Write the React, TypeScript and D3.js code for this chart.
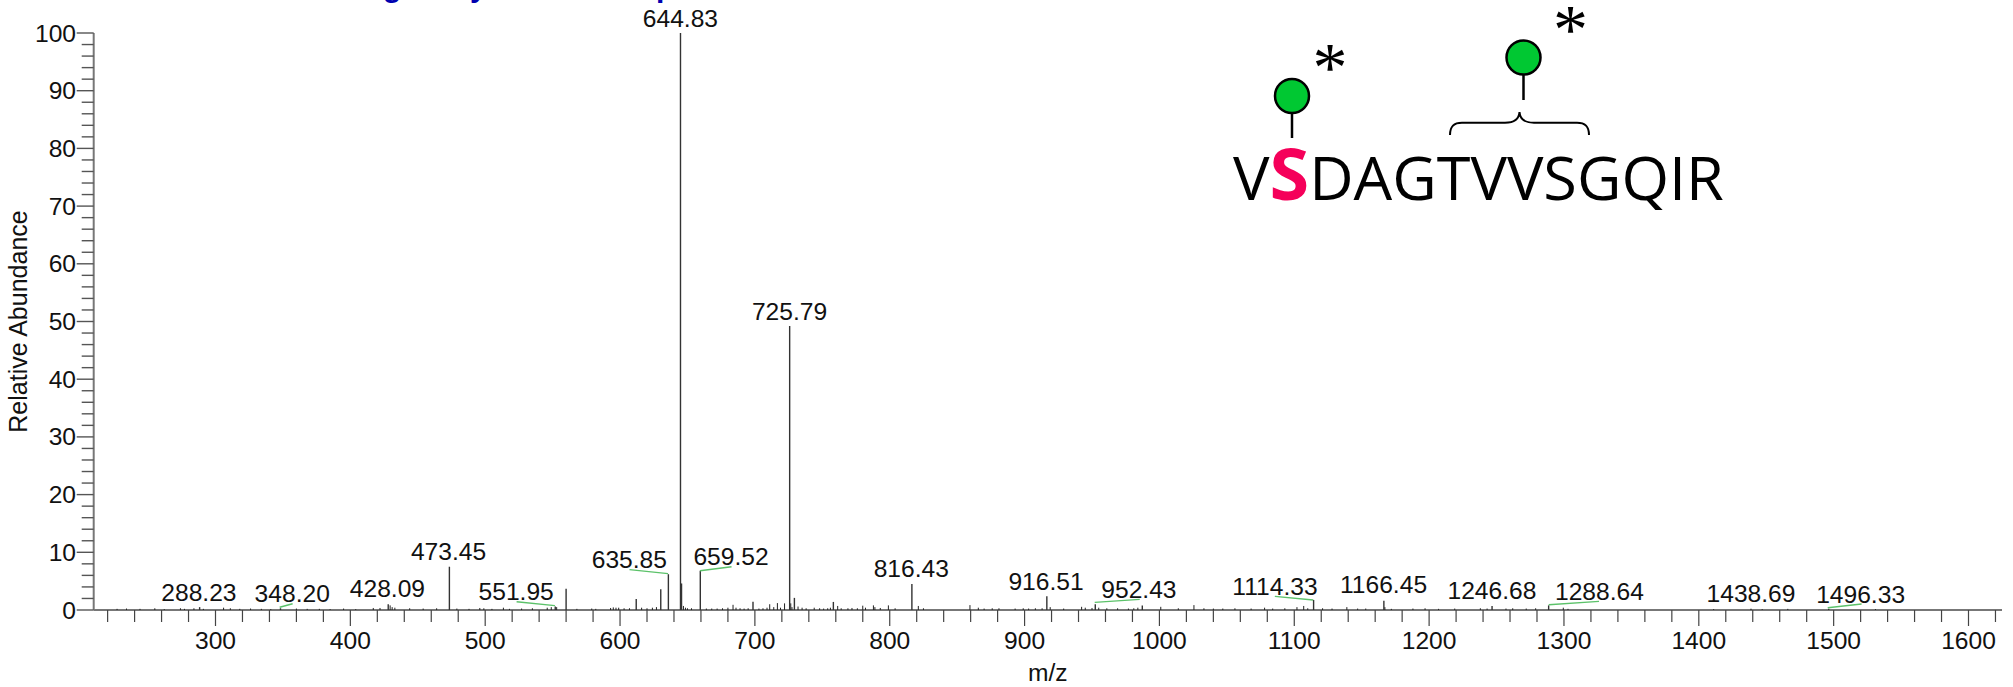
import React from "react";
import * as d3 from "d3";

const W = 2013, H = 687;

// main labelled peaks
const mainMz = [288.23, 348.2, 428.09, 473.45, 551.95, 560, 612, 630.2, 635.85, 644.83, 645.6, 659.52, 698.6, 725.79, 729.3, 758.2, 816.43, 916.51, 952.43, 987.3, 1114.33, 1166.45, 1246.68, 1288.64, 1438.69, 1496.33];
const mainInt = [0.5, 0.3, 1.0, 7.5, 0.6, 3.7, 1.9, 3.6, 6.2, 100, 4.6, 6.8, 1.45, 49.2, 2.1, 1.4, 4.5, 2.4, 1.0, 0.8, 1.75, 1.6, 0.7, 0.8, 0.2, 0.2];

// minor peaks
const minorMz = [227, 234, 244, 255, 262, 274, 277, 284, 291, 306, 311, 318, 326, 334, 341, 360, 368, 377, 385, 395, 404, 417, 422, 429.5, 431, 433, 444, 454, 464, 479, 488, 496, 499, 505, 513.5, 518, 527, 535, 546, 549, 553, 568, 579, 582, 593, 595, 597, 599, 603, 607, 616, 620, 624, 627, 647, 648.5, 650, 653, 664, 668, 672, 676, 680, 683.8, 686, 689, 692, 695, 703, 706, 709, 711, 714, 716.7, 719, 722, 726.6, 727.5, 732, 735, 738, 744, 748, 751, 754, 756, 761.4, 764, 769, 772, 776, 780, 782, 787.9, 789, 793, 799, 804, 821.2, 825, 859.5, 865.7, 870, 876, 881, 893, 899, 903, 908, 913, 919, 929, 942.3, 945, 950, 955, 961, 969, 977, 981, 984, 1001, 1014, 1025.6, 1033, 1040, 1047, 1056, 1068, 1078, 1084, 1093, 1102, 1107, 1110, 1121, 1128, 1139, 1147, 1153, 1167.2, 1172, 1188, 1197, 1207, 1219, 1238, 1243, 1257, 1262, 1272, 1279, 1299.5, 1303, 1411, 1447, 1466, 1531];
const minorInt = [0.2, 0.25, 0.2, 0.3, 0.15, 0.3, 0.2, 0.3, 0.2, 0.4, 0.3, 0.2, 0.25, 0.2, 0.15, 0.25, 0.2, 0.2, 0.15, 0.25, 0.15, 0.35, 0.35, 0.8, 0.5, 0.4, 0.3, 0.25, 0.3, 0.25, 0.2, 0.35, 0.3, 0.2, 0.4, 0.2, 0.25, 0.3, 0.4, 0.5, 0.5, 0.2, 0.25, 0.2, 0.35, 0.45, 0.4, 0.4, 0.3, 0.3, 0.4, 0.3, 0.4, 0.5, 0.7, 0.4, 0.3, 0.3, 0.25, 0.25, 0.25, 0.3, 0.4, 0.9, 0.4, 0.3, 0.25, 0.3, 0.25, 0.3, 0.4, 1.0, 0.5, 1.2, 0.4, 1.15, 1.15, 0.5, 0.6, 0.4, 0.3, 0.4, 0.3, 0.25, 0.3, 0.4, 0.7, 0.3, 0.3, 0.35, 0.3, 0.75, 0.4, 0.8, 0.5, 0.35, 0.8, 0.3, 0.7, 0.3, 0.85, 0.4, 0.25, 0.3, 0.3, 0.25, 0.3, 0.25, 0.3, 0.3, 0.5, 0.25, 0.55, 0.4, 0.35, 0.4, 0.3, 0.3, 0.25, 0.3, 0.4, 0.55, 0.3, 0.85, 0.3, 0.25, 0.25, 0.3, 0.25, 0.4, 0.25, 0.3, 0.5, 0.7, 0.3, 0.3, 0.25, 0.5, 0.25, 0.25, 0.5, 0.2, 0.25, 0.3, 0.2, 0.25, 0.3, 0.25, 0.25, 0.3, 0.25, 0.3, 0.4, 0.2, 0.15, 0.15, 0.2, 0.15];

// printed peak labels and where they sit (m/z, abundance units of the plot)
const labelText = ["644.83", "725.79", "473.45", "288.23", "348.20", "428.09", "551.95", "635.85", "659.52", "816.43", "916.51", "952.43", "1114.33", "1166.45", "1246.68", "1288.64", "1438.69", "1496.33"];
const labelMz = [644.8, 725.7, 472.8, 287.7, 356.9, 427.5, 523, 606.9, 682.3, 816, 915.9, 984.8, 1085.7, 1166.2, 1246.6, 1326.3, 1438.7, 1520];
const labelAt = [101.1, 50.2, 8.67, 1.61, 1.33, 2.2, 1.73, 7.33, 7.8, 5.77, 3.47, 2.08, 2.6, 2.95, 1.9, 1.73, 1.39, 1.21];

// green leader lines: m/z start, abundance start, m/z end, abundance end
const leaderMz0 = [347.6, 523.3, 607, 659.3, 952, 1085.6, 1288.7, 1495.6];
const leaderI0 = [0.47, 1.44, 7.0, 6.8, 1.33, 2.37, 0.92, 0.4];
const leaderMz1 = [357.2, 551.7, 635.6, 682.7, 985.4, 1114, 1326, 1520.7];
const leaderI1 = [1.09, 0.75, 6.3, 7.5, 1.85, 1.73, 1.5, 1.04];

const xMajor = [300, 400, 500, 600, 700, 800, 900, 1000, 1100, 1200, 1300, 1400, 1500, 1600];
const yMajor = [0, 10, 20, 30, 40, 50, 60, 70, 80, 90, 100];
const peptideHead = "V";
const peptideSite = "S";
const peptideTail = "DAGTVVSGQIR";

const x = d3.scaleLinear().domain([300, 1600]).range([215.5, 1968.5]);
const y = d3.scaleLinear().domain([0, 100]).range([610, 33]);
const xLo = x.invert(93.7), xHi = x.invert(2002);
const sans = "'Liberation Sans', Arial, sans-serif";
const FS = 24.6;

export default function App() {
  const xMinor = d3.range(220, 1630, 20);
  const yMinor = d3.range(0, 101, 2);
  return (
    <svg width={W} height={H} style={{ position: "absolute", left: 0, top: 0, background: "#fff" }} fontFamily={sans}>
      {/* cropped title fragments along the top edge */}
      <g fontWeight={700} fontSize={30} fill="#0000b0">
        <text x={383} y={-3}>g</text>
        <text x={470} y={-3}>y</text>
        <text x={656} y={-3}>p</text>
      </g>
      {/* axes */}
      <line x1={x(xLo)} x2={x(xHi)} y1={y(0)} y2={y(0)} stroke="#777" strokeWidth={2} />
      <line x1={x(xLo)} x2={x(xLo)} y1={y(100)} y2={y(0)} stroke="#777" strokeWidth={2} />
      {yMinor.map((v) => (
        <line key={v} x1={x(xLo) - (v % 10 === 0 ? 17 : 12)} x2={x(xLo)} y1={y(v)} y2={y(v)} stroke="#555" strokeWidth={1.4} />
      ))}
      {yMajor.map((v) => (
        <text key={v} x={76} y={y(v) + 8.5} fontSize={FS} textAnchor="end" fill="#111">{v}</text>
      ))}
      {xMinor.map((v) => (
        <line key={v} x1={x(v)} x2={x(v)} y1={y(0)} y2={y(0) + (v % 100 === 0 ? 16 : 12)} stroke="#444" strokeWidth={1.2} />
      ))}
      {xMajor.map((v) => (
        <text key={v} x={x(v)} y={649} fontSize={FS} textAnchor="middle" fill="#111">{v}</text>
      ))}
      <text x={x(800) + 158} y={681} fontSize={FS} textAnchor="middle" fill="#111">m/z</text>
      <text transform={`translate(27,321.5) rotate(-90)`} fontSize={FS + 0.4} textAnchor="middle" fill="#111">Relative Abundance</text>

      {/* peaks */}
      {minorMz.map((m, i) => (
        <line key={"n" + i} x1={x(m)} x2={x(m)} y1={y(0)} y2={y(minorInt[i])} stroke="#222" strokeWidth={1} />
      ))}
      {mainMz.map((m, i) => (
        <line key={"m" + i} x1={x(m)} x2={x(m)} y1={y(0)} y2={y(mainInt[i])} stroke="#333" strokeWidth={1.4} />
      ))}

      {/* leaders */}
      {leaderMz0.map((m, i) => (
        <line key={"l" + i} x1={x(m)} x2={x(leaderMz1[i])} y1={y(leaderI0[i])} y2={y(leaderI1[i])} stroke="#5cc26a" strokeWidth={1.4} />
      ))}
      {labelText.map((t, i) => (
        <text key={t} x={x(labelMz[i])} y={y(labelAt[i])} fontSize={FS} textAnchor="middle" fill="#111">{t}</text>
      ))}

      {/* glycopeptide inset */}
      <text x={1233} y={200} fontFamily="'Open Sans', sans-serif" fontSize={61.2} fill="#000">
        {peptideHead}
        <tspan fontWeight={700} fontSize={72} fill="#f5005a">{peptideSite}</tspan>
        <tspan>{peptideTail}</tspan>
      </text>
      <line x1={1292} x2={1292} y1={113} y2={138} stroke="#000" strokeWidth={2.5} />
      <circle cx={1292} cy={96} r={17} fill="#00c832" stroke="#000" strokeWidth={2.5} />
      <line x1={1523.5} x2={1523.5} y1={74} y2={100} stroke="#000" strokeWidth={2.5} />
      <circle cx={1523.5} cy={57.5} r={17} fill="#00c832" stroke="#000" strokeWidth={2.5} />
      <path d="M1450,135 C1450,126 1454,122.7 1462,122.7 L1505,122.7 C1513,122.7 1519,120 1519.5,112 C1520,120 1526,122.7 1534,122.7 L1577,122.7 C1585,122.7 1589,126 1589,135" fill="none" stroke="#000" strokeWidth={2} />
      <text x={1330} y={91} fontFamily="'Liberation Serif', serif" fontSize={70} textAnchor="middle">*</text>
      <text x={1570.5} y={53} fontFamily="'Liberation Serif', serif" fontSize={70} textAnchor="middle">*</text>
    </svg>
  );
}
